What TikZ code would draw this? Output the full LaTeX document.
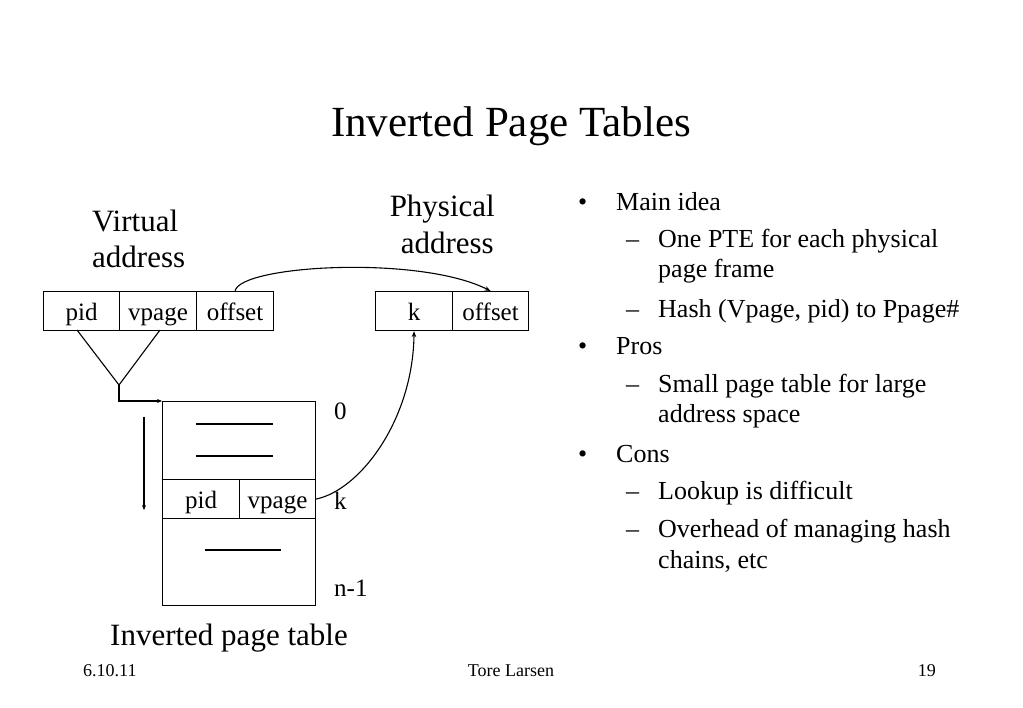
\documentclass[tikz,border=0pt]{standalone}
\usepackage{fontspec}
\setmainfont{Liberation Serif}
\usetikzlibrary{arrows.meta}
\newcommand\fsz[1]{\fontsize{#1}{#1}\selectfont}
\begin{document}
\begin{tikzpicture}[x=1pt,y=-1pt,
  lw/.style={line width=1.1pt},
  fld/.style={draw, lw, inner sep=0pt, minimum height=39pt, text height=20pt, text depth=1pt, font=\fsz{25}, anchor=north west},
  arr/.style={lw, -{Stealth[length=6pt,width=4.5pt]}},
  txt/.style={inner sep=0pt, anchor=base west},
  lbl/.style={txt, font=\fsz{31}},
  bul/.style={txt, font=\fsz{26}},
  foot/.style={inner sep=0pt, anchor=base, font=\fsz{18}}]
\useasboundingbox (0,0) rectangle (1023,708);
\fill[white] (0,0) rectangle (1023,708);

% title
\node[inner sep=0pt, anchor=base, font=\fsz{43}] (title) at (511,137) {Inverted Page Tables};

% labels
\node[lbl] (va1) at (92,232) {Virtual};
\node[lbl] (va2) at (92,268) {address};
\node[lbl, anchor=base east] (pa1) at (495,217) {Physical};
\node[lbl, anchor=base east] (pa2) at (494,254) {address};

% virtual address
\node[fld, minimum width=76pt] (vpid) at (43,291) {pid};
\node[fld, minimum width=77pt] (vvp) at (119,291) {vpage};
\node[fld, minimum width=77pt] (voff) at (196,291) {offset};

% physical address
\node[fld, minimum width=77pt] (pk) at (375,291) {k};
\node[fld, minimum width=76pt] (poff) at (452,291) {offset};

% inverted page table
\node[draw, lw, inner sep=0pt, minimum width=153pt, minimum height=204pt, anchor=north west] (tbl) at (162,401) {};
\node[fld, minimum width=77pt] (rpid) at (162,479) {pid};
\node[fld, minimum width=76pt] (rvp) at (239,479) {vpage};
\draw[lw] (196,424) -- (273,424);
\draw[lw] (196,456) -- (273,456);
\draw[lw] (205,550) -- (281,550);

\node[txt, font=\fsz{25}] (l0) at (334,420) {0};
\node[txt, font=\fsz{25}] (lk) at (334,509) {k};
\node[txt, font=\fsz{25}] (ln) at (334,596) {n-1};
\node[lbl] (cap) at (110,645) {Inverted page table};

% hash triangle
\coordinate (t1) at (77,330);
\coordinate (t2) at (160,330);
\coordinate (apex) at (119,385);
\draw[lw] (t1) -- (apex) -- (t2);
\draw[lw, -{Stealth[length=5pt,width=4pt]}] (apex) |- (tbl.north west);

% search arrow
\coordinate (d1) at (144,417);
\coordinate (d2) at (144,510);
\draw[lw, -{Stealth[length=5pt,width=4pt]}] (d1) -- (d2);

% curves
\draw[arr] (voff.north) .. controls (240,265) and (420,255) .. (poff.north);
\draw[arr] (rvp.east) .. controls (360,490) and (413,420) .. (pk.south);

% bullets
\node[bul] (b1) at (578,211) {\textbullet};
\node[bul] (m1) at (616,211) {Main idea};
\node[bul] (d11) at (626,248) {–};
\node[bul] (s11) at (658,248) {One PTE for each physical};
\node[bul] (s11b) at (658,278) {page frame};
\node[bul] (d12) at (626,318) {–};
\node[bul] (s12) at (658,318) {Hash (Vpage, pid) to Ppage\#};
\node[bul] (b2) at (578,355) {\textbullet};
\node[bul] (m2) at (616,355) {Pros};
\node[bul] (d21) at (626,393) {–};
\node[bul] (s21) at (658,393) {Small page table for large};
\node[bul] (s21b) at (658,423) {address space};
\node[bul] (b3) at (578,462) {\textbullet};
\node[bul] (m3) at (616,462) {Cons};
\node[bul] (d31) at (626,499) {–};
\node[bul] (s31) at (658,499) {Lookup is difficult};
\node[bul] (d32) at (626,537) {–};
\node[bul] (s32) at (658,537) {Overhead of managing hash};
\node[bul] (s32b) at (658,568) {chains, etc};

% footer
\node[foot, anchor=base west] (f1) at (83,676) {6.10.11};
\node[foot] (f2) at (511,676) {Tore Larsen};
\node[foot, anchor=base east] (f3) at (936,676) {19};
\end{tikzpicture}
\end{document}
